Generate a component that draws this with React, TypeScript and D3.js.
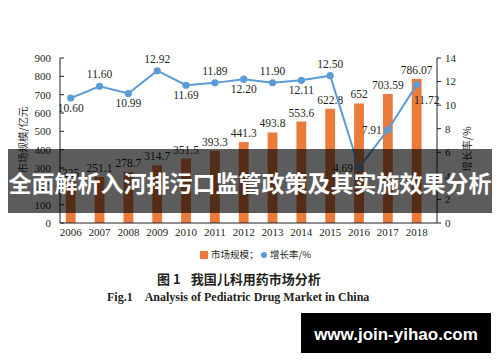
import * as d3 from 'd3';

const years = ['2006', '2007', '2008', '2009', '2010', '2011', '2012', '2013', '2014', '2015', '2016', '2017', '2018'];
const marketSize = [225, 251.1, 278.7, 314.7, 351.5, 393.3, 441.3, 493.8, 553.6, 622.8, 652, 703.59, 786.07];
const sizeLabels = ['225', '251.1', '278.7', '314.7', '351.5', '393.3', '441.3', '493.8', '553.6', '622.8', '652', '703.59', '786.07'];
const growthRate = [10.6, 11.6, 10.99, 12.92, 11.69, 11.89, 12.2, 11.9, 12.11, 12.5, 4.69, 7.91, 11.72];
const growthLabels = ['10.60', '11.60', '10.99', '12.92', '11.69', '11.89', '12.20', '11.90', '12.11', '12.50', '4.69', '7.91', '11.72'];
// where each growth label sits relative to its point
const growthLabelSide = ['below', 'above', 'below', 'above', 'below', 'above', 'below', 'above', 'below', 'above', 'left', 'left', 'belowRight'];
const leftTicks = [0, 100, 200, 300, 400, 500, 600, 700, 800, 900];
const rightTicks = [0, 2, 4, 6, 8, 10, 12, 14];

const W = 500;
const H = 362;
const serif = '"Liberation Serif", "Times New Roman", serif';
const cjk = '"Noto Sans CJK SC", sans-serif';
const orange = '#EA7B3B';
const blue = '#5B9BD5';
const ink = '#231f20';

export default function App() {
  const axisLeft = 60;
  const axisRight = 437;
  const top = 58;
  const bottom = 223;

  const x = d3.scaleBand<string>()
    .domain(years)
    .range([56.3, 431.1])
    .paddingInner(0.66)
    .paddingOuter(0.33);
  const yL = d3.scaleLinear().domain([0, 900]).range([bottom, top]);
  const yR = d3.scaleLinear().domain([0, 14]).range([bottom, top]);
  const cx = (y: string) => (x(y) ?? 0) + x.bandwidth() / 2;

  const line = d3.line<number>()
    .x((_, i) => cx(years[i]))
    .y(d => yR(d));

  return (
    <svg width={W} height={H} viewBox={`0 0 ${W} ${H}`}
      style={{ position: 'absolute', left: 0, top: 0, background: '#fff' }}>
      {/* bars */}
      {marketSize.map((v, i) => (
        <rect key={years[i]} x={x(years[i])} y={yL(v)} width={x.bandwidth()}
          height={yL(0) - yL(v)} fill={orange} />
      ))}
      {marketSize.map((v, i) => (
        <text key={'bl' + i} x={cx(years[i])} y={yL(v) - 5} textAnchor="middle"
          fontFamily={serif} fontSize={11.5} fill={ink}>{sizeLabels[i]}</text>
      ))}

      {/* axes */}
      <line x1={axisLeft} x2={axisLeft} y1={top} y2={bottom} stroke={ink} strokeWidth={1} />
      <line x1={axisRight} x2={axisRight} y1={top} y2={bottom} stroke={ink} strokeWidth={1} />
      <line x1={axisLeft} x2={axisRight} y1={bottom} y2={bottom} stroke={ink} strokeWidth={1} />
      {leftTicks.map(t => (
        <g key={'lt' + t}>
          <line x1={axisLeft} x2={axisLeft + 4} y1={yL(t)} y2={yL(t)} stroke={ink} />
          <text x={axisLeft - 9} y={yL(t)} dy="0.35em" textAnchor="end"
            fontFamily={serif} fontSize={11} fill={ink}>{t}</text>
        </g>
      ))}
      {rightTicks.map(t => (
        <g key={'rt' + t}>
          <line x1={axisRight} x2={axisRight + 4} y1={yR(t)} y2={yR(t)} stroke={ink} />
          <text x={axisRight + 8} y={yR(t)} dy="0.35em" textAnchor="start"
            fontFamily={serif} fontSize={11} fill={ink}>{t}</text>
        </g>
      ))}
      {years.map(y => (
        <text key={'x' + y} x={cx(y)} y={bottom + 13} textAnchor="middle"
          fontFamily={serif} fontSize={11} fill={ink}>{y}</text>
      ))}
      <text transform="translate(23,140) rotate(-90)" textAnchor="middle" dy="0.35em"
        fontFamily={cjk} fontSize={10.5} fill="#333">市场规模/亿元</text>
      <text transform="translate(467,149) rotate(-90)" textAnchor="middle" dy="0.35em"
        fontFamily={cjk} fontSize={10.5} fill="#333">增长率/%</text>

      {/* growth line */}
      <path d={line(growthRate) ?? ''} fill="none" stroke={blue} strokeWidth={2} />
      {growthRate.map((v, i) => (
        <circle key={'p' + i} cx={cx(years[i])} cy={yR(v)} r={3.6} fill={blue} />
      ))}
      {growthRate.map((v, i) => {
        const px = cx(years[i]);
        const py = yR(v);
        const side = growthLabelSide[i];
        let tx = px, ty = py, anchor = 'middle';
        if (side === 'above') ty = py - 8;
        else if (side === 'below') ty = py + 14;
        else if (side === 'left') { tx = px - 6; ty = py + 4; anchor = 'end'; }
        else { tx = px + 10; ty = py + 19; }
        return (
          <text key={'gl' + i} x={tx} y={ty} textAnchor={anchor}
            fontFamily={serif} fontSize={11.5} fill={ink}>{growthLabels[i]}</text>
        );
      })}

      {/* legend */}
      <rect x={200} y={251} width={8} height={8} fill={orange} />
      <text x={211} y={255} dy="0.35em" fontFamily={cjk} fontSize={9.5} fill={ink}>市场规模；</text>
      <circle cx={264} cy={255} r={3} fill={blue} />
      <text x={270} y={255} dy="0.35em" fontFamily={cjk} fontSize={9.5} fill={ink}>增长率/%</text>

      {/* captions */}
      <text x={157} y={279} dy="0.35em" fontFamily={cjk} fontSize={13} fontWeight="bold" fill={ink}>
        图 1<tspan dx={10}>我国儿科用药市场分析</tspan>
      </text>
      <text x={107} y={297} dy="0.35em" fontFamily={serif} fontSize={12} fontWeight="bold" fill={ink}>
        Fig.1<tspan dx={12}>Analysis of Pediatric Drug Market in China</tspan>
      </text>

      {/* overlay banner */}
      <rect x={8} y={149} width={484} height={64} fill="rgba(0,0,0,0.64)" />
      <text x={250} y={184} dy="0.35em" textAnchor="middle" fontFamily={cjk} fontSize={23}
        fontWeight="bold" fill="#fff">全面解析入河排污口监管政策及其实施效果分析</text>

      {/* watermark */}
      <rect x={301} y={313} width={190} height={40} fill="#000" />
      <text x={396} y={334} dy="0.35em" textAnchor="middle"
        fontFamily='"Liberation Sans", Arial, sans-serif' fontSize={17} fontWeight="bold" fill="#fff">
        www.join-yihao.com
      </text>
    </svg>
  );
}
